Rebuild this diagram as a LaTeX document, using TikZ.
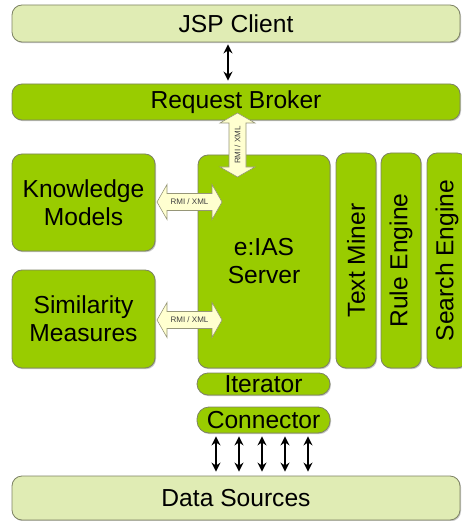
\documentclass[tikz,border=0pt]{standalone}
\usepackage{fontspec}
\setmainfont{Liberation Sans}
\usetikzlibrary{shadows,arrows.meta}
\definecolor{grn}{RGB}{153,204,0}
\definecolor{lgrn}{RGB}{224,236,180}
\definecolor{bord}{RGB}{125,130,100}
\definecolor{ayel}{RGB}{255,255,208}
\definecolor{abord}{RGB}{150,150,120}
\tikzset{
  box/.style={draw=bord, line width=0.8pt, rounded corners=10pt, align=center,
    font=\fontsize{24.6}{28}\selectfont, inner sep=0pt,
    drop shadow={shadow xshift=1pt, shadow yshift=-1.2pt, fill=gray, opacity=0.45}},
  gbox/.style={box, fill=grn},
  lbox/.style={box, fill=lgrn},
  blockarrow/.style={draw=abord, fill=ayel, line width=0.6pt},
  small/.style={font=\fontsize{8}{9}\selectfont, text=black!75, inner sep=0pt},
  link/.style={line width=2pt, {Stealth[length=9pt,width=9pt]}-{Stealth[length=9pt,width=9pt]}}
}
\begin{document}
\begin{tikzpicture}[x=1pt,y=-1pt]
\useasboundingbox (0,0) rectangle (461,521);
\node[lbox, minimum width=448, minimum height=37] (jsp) at (236,23.5) {JSP Client};
\node[gbox, minimum width=448, minimum height=36] (broker) at (236,102) {Request Broker};
\node[gbox, minimum width=143, minimum height=97] (km) at (83.5,202.5) {Knowledge\\Models};
\node[gbox, minimum width=143, minimum height=98] (sm) at (83.5,319) {Similarity\\Measures};
\node[gbox, minimum width=132, minimum height=213] (server) at (264,261.5) {e:IAS\\Server};
\node[gbox, rotate=90, minimum width=215, minimum height=40] (tm) at (356,260.5) {Text Miner};
\node[gbox, rotate=90, minimum width=215, minimum height=40] (re) at (401,260.5) {Rule Engine};
\node[gbox, rotate=90, minimum width=215, minimum height=40] (se) at (447,260.5) {Search Engine};
\node[gbox, rounded corners=11pt, minimum width=133, minimum height=22] (it) at (263.5,384) {Iterator};
\node[gbox, rounded corners=12pt, minimum width=133, minimum height=26] (con) at (263.5,420) {Connector};
\node[lbox, minimum width=448, minimum height=44] (ds) at (236,498) {Data Sources};

\draw[link] ([yshift=-2pt]228,0 |- jsp.south) -- ([yshift=3pt]228,0 |- broker.north);
\foreach \x in {216,239,262,285,308}
  \draw[link] ([yshift=-3pt]\x,0 |- con.south) -- ([yshift=4pt]\x,0 |- ds.north);

% block arrows
\begin{scope}[shift={(189.5,202)}]
  \draw[blockarrow] (-32.5,0) -- (-22.5,17.5) -- (-22.5,8.5) -- (22.5,8.5) -- (22.5,17.5) -- (32.5,0)
    -- (22.5,-17.5) -- (22.5,-8.5) -- (-22.5,-8.5) -- (-22.5,-17.5) -- cycle;
  \node[small] (a1) at (0,0) {RMI / XML};
\end{scope}
\begin{scope}[shift={(189.5,320)}]
  \draw[blockarrow] (-32.5,0) -- (-22.5,17.5) -- (-22.5,8.5) -- (22.5,8.5) -- (22.5,17.5) -- (32.5,0)
    -- (22.5,-17.5) -- (22.5,-8.5) -- (-22.5,-8.5) -- (-22.5,-17.5) -- cycle;
  \node[small] (a2) at (0,0) {RMI / XML};
\end{scope}
\begin{scope}[shift={(237.5,145)}]
  \draw[blockarrow] (0,-32) -- (17.5,-22) -- (8.5,-22) -- (8.5,22) -- (17.5,22) -- (0,32)
    -- (-17.5,22) -- (-8.5,22) -- (-8.5,-22) -- (-17.5,-22) -- cycle;
  \node[small, rotate=90] (a3) at (0,0) {RMI / XML};
\end{scope}
\end{tikzpicture}
\end{document}
